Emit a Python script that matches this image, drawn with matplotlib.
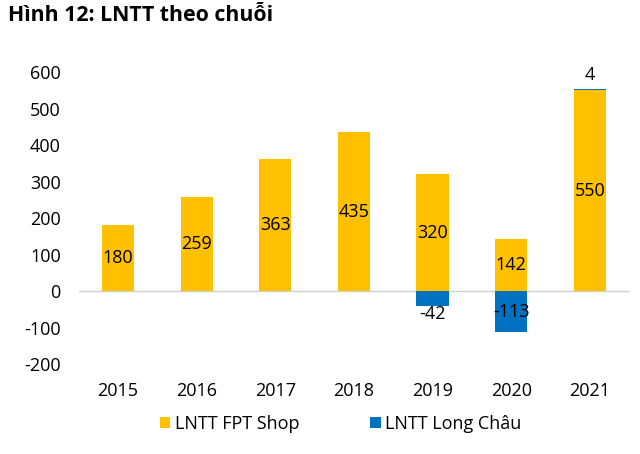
import matplotlib.pyplot as plt
import numpy as np

plt.rcParams['font.family'] = ['Open Sans', 'DejaVu Sans']
plt.rcParams['axes.unicode_minus'] = False

years = ['2015', '2016', '2017', '2018', '2019', '2020', '2021']
fpt_shop = [180, 259, 363, 435, 320, 142, 550]
long_chau = [0, 0, 0, 0, -42, -113, 4]

yellow = '#FFC000'
blue = '#0070C0'

fig = plt.figure(figsize=(6.4, 4.54), dpi=100)
ax = fig.add_axes([0.123, 0.198, 0.860, 0.643])

x = np.arange(len(years))
w = 0.41
ax.bar(x, fpt_shop, w, color=yellow, label='LNTT FPT Shop')
lc_bottom = [f if v > 0 else 0 for f, v in zip(fpt_shop, long_chau)]
ax.bar(x, long_chau, w, bottom=lc_bottom, color=blue, label='LNTT Long Châu')

# labels
for i, v in enumerate(fpt_shop):
    ax.text(i, v / 2, str(v), ha='center', va='center', fontsize=13)
for i, v in enumerate(long_chau):
    if v == 0:
        continue
    if v > 0:
        ypos = lc_bottom[i] + v + 38
    elif v > -60:
        ypos = v - 20
    else:
        ypos = v / 2
    ax.text(i, ypos, str(v), ha='center', va='center', fontsize=13)

ax.axhline(0, color='#d0d0d0', lw=1, zorder=0)
ax.set_xlim(-0.5, len(years) - 0.5)
ax.set_ylim(-200, 600)
ax.set_yticks(range(-200, 601, 100))
ax.set_xticks(x)
ax.set_xticklabels(years)
ax.tick_params(length=0, labelsize=13)
ax.tick_params(axis='y', pad=13)
ax.tick_params(axis='x', pad=13)
for s in ax.spines.values():
    s.set_visible(False)

fig.text(0.012, 0.965, 'Hình 12: LNTT theo chuỗi', fontsize=15.3, fontweight='bold',
         ha='left', va='center')

fig.legend(loc='center', bbox_to_anchor=(0.532, 0.066), ncol=2, frameon=False,
           fontsize=13, handlelength=0.6, handleheight=0.6, handletextpad=0.25,
           columnspacing=3.9)

plt.savefig('out.png', dpi=100)
